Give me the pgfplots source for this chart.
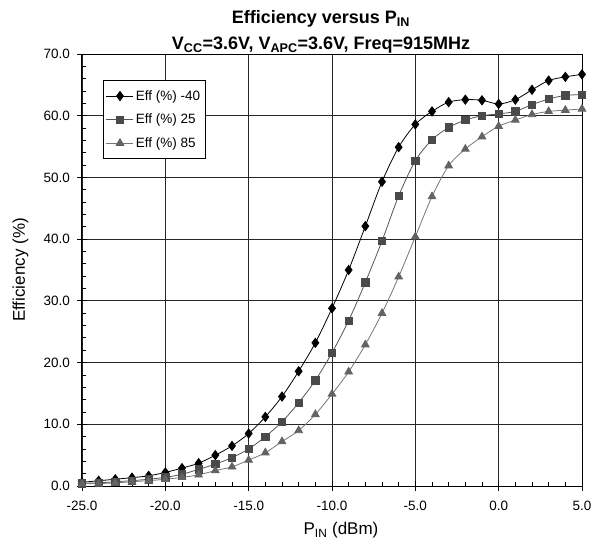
\documentclass[border=0pt]{standalone}
\usepackage{fontspec}
\setmainfont{Liberation Sans}
\usepackage{pgfplots}
\pgfplotsset{compat=1.18}
\definecolor{sqmark}{HTML}{4A4A4A}
\definecolor{sqline}{HTML}{555555}
\definecolor{trmark}{HTML}{636363}
\definecolor{trline}{HTML}{767676}
\begin{document}
\begin{tikzpicture}
\path[use as bounding box] (-82bp,-58bp) rectangle (513bp,486bp);
\begin{axis}[
  at={(0,0)}, anchor=south west,
  scale only axis, width=500bp, height=432bp,
  xmin=-25, xmax=5, ymin=0, ymax=70,
  xtick={-25,-20,...,5}, ytick={0,10,...,70},
  minor x tick num=4, minor y tick num=4,
  tick pos=left,
  tick align=center, major tick length=10bp, minor tick length=4bp,
  every minor x tick/.append style={yshift=2bp},
  every minor y tick/.append style={xshift=2bp},
  tick style={black, line width=0.8bp},
  grid=major, major grid style={black!85, line width=0.8bp},
  axis line style={black, line width=1bp},
  ticklabel style={font=\fontsize{13.5bp}{16bp}\selectfont,
    /pgf/number format/fixed, /pgf/number format/fixed zerofill,
    /pgf/number format/precision=1, /pgf/number format/assume math mode=true},
  xticklabel style={yshift=-7bp},
  yticklabel style={xshift=-3.5bp},
  xlabel={P\textsubscript{IN} (dBm)}, ylabel={Efficiency (\%)},
  label style={font=\fontsize{17bp}{20bp}\selectfont},
  xlabel style={at={(axis description cs:0.518,-0.1134)}, anchor=base},
  ylabel style={at={(axis description cs:-0.114,0.5)}, anchor=base},
  legend style={at={(axis description cs:0.0414,0.9398)}, anchor=north west,
    draw=black, line width=0.8bp, fill=white, inner ysep=8bp,
    font=\fontsize{13.5bp}{16bp}\selectfont, row sep=8.3bp},
  legend cell align=left,
  legend image code/.code={\draw[mark repeat=2,mark phase=2,#1] plot coordinates {(0bp,0bp) (13.5bp,0bp) (27bp,0bp)};},
]
\addplot[black, line width=0.8bp, smooth, mark=diamond*, mark size=4.6bp, mark options={fill=black, solid}] coordinates {
(-25,0.6) (-24,0.85) (-23,1.1) (-22,1.35) (-21,1.65) (-20,2.2) (-19,2.9) (-18,3.7) (-17,5.0) (-16,6.5)
(-15,8.5) (-14,11.2) (-13,14.5) (-12,18.6) (-11,23.2) (-10,28.8) (-9,35.0) (-8,42.1) (-7,49.3) (-6,54.9)
(-5,58.6) (-4,60.7) (-3,62.2) (-2,62.6) (-1,62.5) (0,61.9) (1,62.6) (2,64.2) (3,65.7) (4,66.3) (5,66.7)};
\addlegendentry{Eff (\%) -40}
\addplot[sqline, line width=0.8bp, smooth, mark=square*, mark size=3.7bp, mark options={draw=sqmark, fill=sqmark, solid}] coordinates {
(-25,0.45) (-24,0.5) (-23,0.7) (-22,0.86) (-21,1.1) (-20,1.4) (-19,1.9) (-18,2.7) (-17,3.55) (-16,4.6)
(-15,6.0) (-14,8.0) (-13,10.4) (-12,13.5) (-11,17.1) (-10,21.6) (-9,26.8) (-8,33.0) (-7,39.7) (-6,47.0)
(-5,52.7) (-4,56.1) (-3,58.1) (-2,59.3) (-1,60.0) (0,60.3) (1,60.7) (2,61.8) (3,62.7) (4,63.3) (5,63.4)};
\addlegendentry{Eff (\%) 25}
\addplot[trline, line width=0.8bp, smooth, mark=triangle*, mark size=4.4bp, mark options={draw=trmark, fill=trmark, solid}] coordinates {
(-25,0.35) (-24,0.4) (-23,0.5) (-22,0.7) (-21,0.86) (-20,1.1) (-19,1.4) (-18,1.8) (-17,2.5) (-16,3.1)
(-15,4.2) (-14,5.4) (-13,7.2) (-12,9.0) (-11,11.6) (-10,14.9) (-9,18.5) (-8,22.9) (-7,28.0) (-6,33.9)
(-5,40.4) (-4,46.9) (-3,51.9) (-2,54.6) (-1,56.6) (0,58.3) (1,59.3) (2,60.2) (3,60.7) (4,60.9) (5,61.1)};
\addlegendentry{Eff (\%) 85}
\end{axis}
\node[anchor=base, font=\fontsize{18bp}{21bp}\selectfont\bfseries] at (239bp,462.7bp) {Efficiency versus P\textsubscript{IN}};
\node[anchor=base, font=\fontsize{18bp}{21bp}\selectfont\bfseries] at (239bp,436bp) {V\textsubscript{CC}=3.6V, V\textsubscript{APC}=3.6V, Freq=915MHz};
\end{tikzpicture}
\end{document}
